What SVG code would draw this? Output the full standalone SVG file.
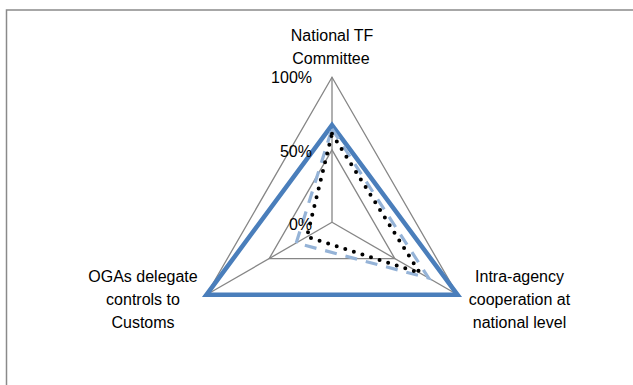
<svg xmlns="http://www.w3.org/2000/svg" width="633" height="385" viewBox="0 0 633 385">
<style>
.lbl{font-family:"Liberation Sans",Arial,sans-serif;font-size:16px;fill:#000}
.grid{fill:none;stroke:#868686;stroke-width:1.3}
.s1{fill:none;stroke:#4a7ebb;stroke-width:4.5;stroke-linejoin:miter}
.s2{fill:none;stroke:#95b3d7;stroke-width:3.2;stroke-dasharray:12 9}
.s3{fill:none;stroke:#000;stroke-width:4;stroke-linecap:round;stroke-dasharray:0 9}
</style>
<rect x="0" y="0" width="633" height="385" fill="#fff"/>
<rect x="6.5" y="10" width="700" height="500" fill="none" stroke="#8a8a8a" stroke-width="1.5"/>
<g id="grid">
<polygon class="grid" points="332,77.3 457.57,294.8 206.43,294.8"/>
<polygon class="grid" points="332,149.8 394.79,258.55 269.21,258.55"/>
<line class="grid" x1="332" y1="222.3" x2="332" y2="77.3"/>
<line class="grid" x1="332" y1="222.3" x2="457.57" y2="294.8"/>
<line class="grid" x1="332" y1="222.3" x2="206.43" y2="294.8"/>
</g>
<g id="series">
<polygon class="s1" points="332,125.15 457.57,294.8 206.43,294.8"/>
<polygon class="s2" points="332,128.8 428.7,278.1 296.2,243.0"/>
<polygon class="s3" points="332,133.85 419.9,273.05 306.9,236.8"/>
</g>
<g id="axis-top">
<text class="lbl" x="332" y="41" text-anchor="middle">National TF</text>
<text class="lbl" x="331" y="64" text-anchor="middle">Committee</text>
</g>
<g id="axis-right">
<text class="lbl" x="519.5" y="282" text-anchor="middle">Intra-agency</text>
<text class="lbl" x="519.5" y="305" text-anchor="middle">cooperation at</text>
<text class="lbl" x="519.5" y="328" text-anchor="middle">national level</text>
</g>
<g id="axis-left">
<text class="lbl" x="143" y="282" text-anchor="middle">OGAs delegate</text>
<text class="lbl" x="143" y="305" text-anchor="middle">controls to</text>
<text class="lbl" x="143" y="328" text-anchor="middle">Customs</text>
</g>
<g id="scale">
<text class="lbl" x="312" y="83" text-anchor="end">100%</text>
<text class="lbl" x="312" y="157" text-anchor="end">50%</text>
<text class="lbl" x="312" y="230" text-anchor="end">0%</text>
</g>
</svg>
